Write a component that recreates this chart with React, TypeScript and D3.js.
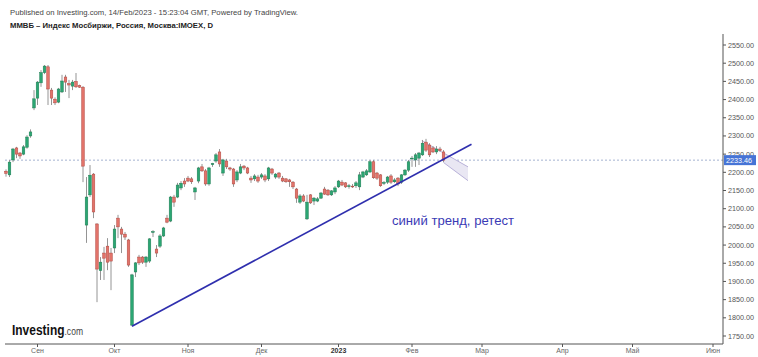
import React from "react";
import * as d3 from "d3";

// Daily candles (bar index 0 = last week of Aug 2022 ... 125 = 14 Feb 2023)
const opens = [2203,2193,2234,2267,2253,2250,2269,2300,2377,2404,2446,2474,2490,2426,2401,2393,2421,2462,2444,2437,2450,2438,2434,2055,2138,2195,2058,1930,1978,1997,1978,1992,2074,2044,2030,2014,1780,1926,1967,1967,1953,1956,2035,1989,1997,2025,2074,2066,2132,2132,2157,2176,2184,2182,2146,2176,2215,2204,2168,2221,2231,2256,2198,2231,2212,2209,2179,2198,2217,2212,2184,2182,2187,2187,2190,2182,2209,2187,2198,2184,2182,2179,2173,2154,2118,2135,2072,2138,2121,2121,2129,2154,2151,2138,2146,2160,2173,2171,2161,2162,2163,2160,2187,2193,2201,2229,2198,2193,2170,2173,2190,2174,2184,2173,2193,2206,2237,2234,2239,2248,2283,2275,2267,2256,2264,2256];
const highs = [2208,2234,2267,2270,2256,2275,2302,2318,2426,2451,2481,2495,2495,2432,2406,2432,2468,2468,2454,2454,2473,2441,2437,2187,2220,2198,2060,1967,1995,2019,1992,2055,2083,2050,2036,2017,1921,1953,1973,1970,1970,2019,2041,2000,2030,2050,2083,2135,2138,2171,2176,2184,2190,2187,2160,2215,2223,2209,2215,2226,2253,2264,2237,2237,2215,2212,2206,2223,2220,2215,2190,2195,2193,2198,2195,2215,2212,2198,2201,2190,2184,2182,2176,2157,2140,2140,2138,2140,2132,2132,2146,2160,2154,2151,2162,2179,2179,2173,2168,2168,2176,2201,2204,2209,2234,2234,2201,2195,2176,2190,2195,2184,2187,2195,2209,2234,2245,2253,2256,2289,2292,2280,2272,2272,2270,2261];
const lows = [2188,2187,2228,2239,2237,2247,2265,2295,2371,2385,2435,2470,2385,2385,2385,2390,2418,2421,2404,2426,2432,2432,2173,2006,2132,2074,1843,1904,1904,1931,1876,1978,2019,1978,2014,1940,1777,1912,1945,1948,1940,1951,2022,1967,1992,2022,2060,2063,2105,2129,2151,2160,2173,2168,2124,2170,2201,2163,2163,2215,2226,2215,2190,2209,2204,2160,2173,2195,2206,2195,2171,2176,2171,2182,2173,2176,2193,2182,2182,2173,2171,2160,2154,2116,2113,2118,2069,2113,2110,2118,2127,2138,2135,2135,2140,2157,2162,2157,2155,2157,2157,2151,2184,2190,2198,2182,2179,2160,2165,2168,2168,2171,2162,2168,2190,2201,2215,2215,2220,2245,2256,2242,2253,2250,2256,2228];
const closes = [2197,2228,2264,2250,2245,2270,2297,2311,2402,2448,2474,2492,2429,2404,2391,2429,2451,2448,2440,2448,2435,2434,2217,2132,2192,2091,1934,1953,1964,1953,1956,2044,2050,2030,2022,1945,1918,1951,1951,1953,1967,2017,2037,1978,2025,2047,2063,2132,2118,2165,2170,2168,2176,2174,2157,2212,2204,2168,2212,2224,2248,2223,2234,2215,2209,2168,2201,2215,2212,2198,2179,2190,2176,2193,2179,2212,2198,2195,2187,2176,2174,2174,2160,2129,2135,2121,2118,2116,2129,2127,2143,2140,2138,2149,2157,2176,2165,2160,2163,2161,2171,2193,2201,2204,2229,2185,2184,2163,2172,2187,2173,2179,2168,2193,2206,2229,2239,2248,2253,2280,2261,2248,2256,2264,2260,2233.46];

const monthLabels = ["Сен","Окт","Ноя","Дек","2023","Фев","Мар","Апр","Май","Июн"];
const monthBars = [9,31,52,73,95,116,136,159,179,202];

const priceTicks = [2550,2500,2450,2400,2350,2300,2250,2200,2150,2100,2050,2000,1950,1900,1850,1800,1750];
const lastPrice = 2233.46;

const trendBars = [36,133];
const trendPrices = [1777,2277];

const channelUpperBars = [118.8,132];
const channelUpperPrices = [2287,2215];
const channelLowerBars = [125,132];
const channelLowerPrices = [2227,2177];
const channelFillUpperStart = 2253;

const FONT = "'Liberation Sans', Arial, sans-serif";

export default function App() {
  const W = 758, H = 357;
  const axisX = 723;
  const axisY = 344;
  const x = d3.scaleLinear().domain([0, 1]).range([6, 9.5]);
  const y = d3.scaleLinear().domain([1750, 2550]).range([336, 45]);

  const up = "#2ba673", upStroke = "#1d7d52";
  const dn = "#e2736a", dnStroke = "#b0473f";
  const wick = "#949494";

  const line = d3.line<[number, number]>().x(d => x(d[0])).y(d => y(d[1]));

  const chPoly: [number, number][] = [
    [channelLowerBars[0], channelFillUpperStart],
    [channelUpperBars[1], channelUpperPrices[1]],
    [channelLowerBars[1], channelLowerPrices[1]],
    [channelLowerBars[0], channelLowerPrices[0]],
  ];

  return (
    <svg width={W} height={H} style={{ position: "absolute", left: 0, top: 0, background: "#fff" }} fontFamily={FONT}>
      <rect x={0} y={0} width={W} height={H} fill="#fff" />
      <text x={10} y={14.5} fontSize={8} fill="#444" textLength={288} lengthAdjust="spacingAndGlyphs">
        Published on Investing.com, 14/Feb/2023 - 15:23:04 GMT, Powered by TradingView.
      </text>
      <text x={10} y={27.5} fontSize={8} fontWeight="bold" fill="#222" textLength={203} lengthAdjust="spacingAndGlyphs">
        ММВБ – Индекс Мосбиржи, Россия, Москва:IMOEX, D
      </text>

      {/* last price dotted line */}
      <line x1={5} x2={axisX} y1={y(lastPrice)} y2={y(lastPrice)} stroke="#7d90bb" strokeWidth={0.7} strokeDasharray="2,2" />

      {/* channel */}
      <path d={line(chPoly) + "Z"} fill="#e9e7f3" stroke="none" />
      <path d={line([[channelUpperBars[0], channelUpperPrices[0]], [channelUpperBars[1], channelUpperPrices[1]]])!} stroke="#b9b2d9" strokeWidth={1} fill="none" />
      <path d={line([[channelLowerBars[0], channelLowerPrices[0]], [channelLowerBars[1], channelLowerPrices[1]]])!} stroke="#b9b2d9" strokeWidth={1} fill="none" />

      {/* candles */}
      {opens.map((o, i) => {
        const c = closes[i];
        const isUp = c >= o;
        const cx = x(i);
        const top = y(Math.max(o, c));
        const bot = y(Math.min(o, c));
        return (
          <g key={i}>
            <line x1={cx} x2={cx} y1={y(highs[i])} y2={y(lows[i])} stroke={wick} strokeWidth={1} />
            <rect x={cx - 1.3} y={top} width={2.6} height={Math.max(0.8, bot - top)}
              fill={isUp ? up : dn} stroke={isUp ? upStroke : dnStroke} strokeWidth={0.5} />
          </g>
        );
      })}

      {/* trend line */}
      <path d={line([[trendBars[0], trendPrices[0]], [trendBars[1], trendPrices[1]]])!} stroke="#2f2fae" strokeWidth={1.6} fill="none" />

      <text x={392} y={225} fontSize={12} fill="#3a3ab5" textLength={122} lengthAdjust="spacingAndGlyphs">синий тренд, ретест</text>

      {/* Investing logo */}
      <text x={12} y={334.5} textLength={71} lengthAdjust="spacingAndGlyphs">
        <tspan fontSize={14} fontWeight="bold" fill="#111">Investing</tspan>
        <tspan fontSize={10} fill="#444">.com</tspan>
      </text>

      {/* axes */}
      <line x1={5} x2={axisX} y1={axisY} y2={axisY} stroke="#555" strokeWidth={1} />
      <line x1={axisX} x2={axisX} y1={34} y2={axisY} stroke="#555" strokeWidth={1} />
      {priceTicks.map(p => (
        <g key={p}>
          <line x1={axisX} x2={axisX + 3} y1={y(p)} y2={y(p)} stroke="#555" strokeWidth={1} />
          <text x={728} y={y(p)} dy="0.35em" fontSize={7.2} fill="#555">{p.toFixed(2)}</text>
        </g>
      ))}
      {monthLabels.map((m, k) => (
        <g key={m}>
          <line x1={x(monthBars[k])} x2={x(monthBars[k])} y1={axisY} y2={axisY + 3} stroke="#555" strokeWidth={1} />
          <text x={x(monthBars[k])} y={353} textAnchor="middle" fontSize={7}
            fontWeight={m === "2023" ? "bold" : "normal"} fill={m === "2023" ? "#333" : "#666"}>{m}</text>
        </g>
      ))}

      {/* last price box */}
      <rect x={axisX + 1} y={y(lastPrice) - 5} width={32} height={10} fill="#4674d6" />
      <text x={axisX + 3} y={y(lastPrice)} dy="0.35em" fontSize={7.2} fill="#fff">{lastPrice.toFixed(2)}</text>
    </svg>
  );
}
